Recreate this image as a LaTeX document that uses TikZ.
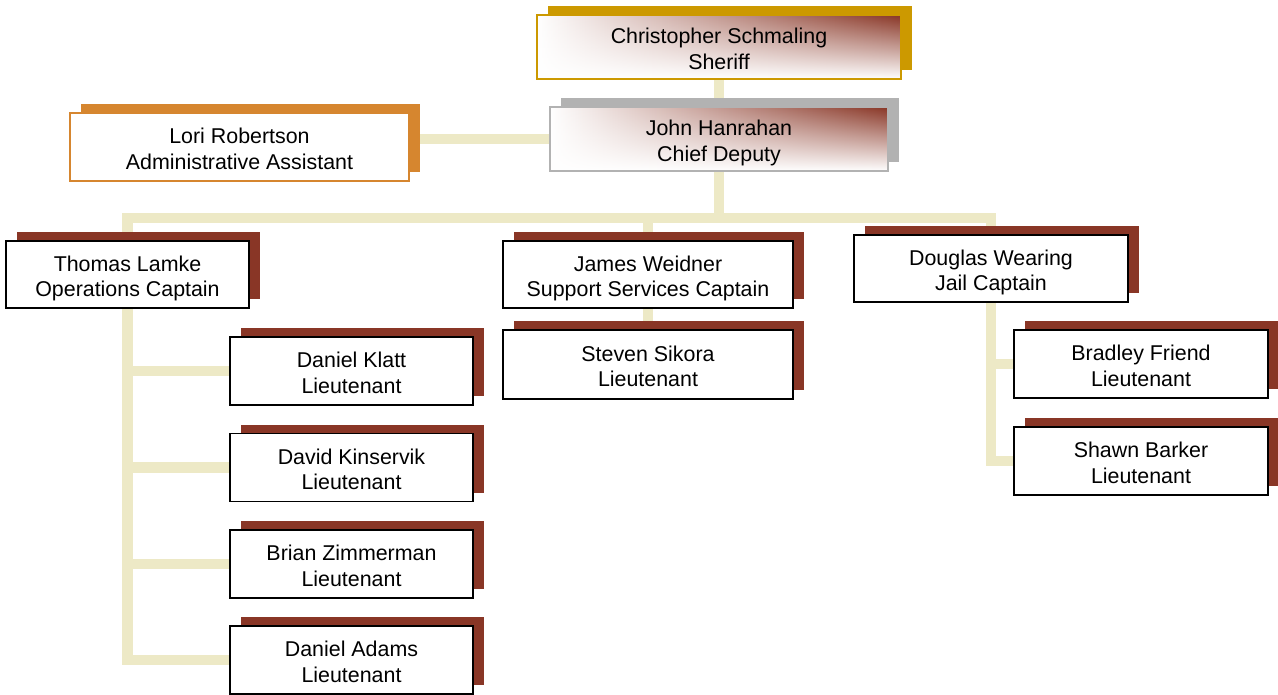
\documentclass[tikz,border=0pt]{standalone}
\usepackage{fontspec}
\setmainfont{Liberation Sans}
\usetikzlibrary{shadows,fadings,backgrounds}

\definecolor{rust}{RGB}{137,54,38}
\definecolor{goldedge}{RGB}{204,153,0}
\definecolor{greyedge}{RGB}{178,178,178}
\definecolor{orangeedge}{RGB}{214,134,47}
\definecolor{beige}{RGB}{237,233,198}
\tikzfading[name=fadedown, top color=transparent!0, middle color=transparent!25, bottom color=transparent!100]
\newcommand{\orgfont}{\fontsize{21.4}{25.7}\selectfont}

\tikzset{
  member/.style={rectangle, draw=black, line width=1.5pt, fill=white, inner sep=0pt,
    align=center, font=\orgfont, text height=44.5pt, text depth=0pt,
    drop shadow={shadow xshift=11pt, shadow yshift=9pt, fill=#1, opacity=1}},
  member/.default=rust,
  glow/.style={postaction={left color=white, middle color=rust!30!white, right color=rust, path fading=fadedown},
    postaction={draw=#1, line width=1.5pt}},
  lieut/.style={member, minimum width=243pt, minimum height=68pt},
  link/.style={draw=beige, line width=10.5pt}
}

\begin{document}
\begin{tikzpicture}[x=1pt, y=-1pt]
    \useasboundingbox (0,0) rectangle (1278,694);

    \node[member=goldedge, draw=goldedge, glow=goldedge, minimum width=364pt, minimum height=64pt] (sheriff) at (719,47) {Christopher Schmaling\\Sheriff};
    \node[member=greyedge, draw=greyedge, glow=greyedge, minimum width=338pt, minimum height=64pt] (chief) at (719,139) {John Hanrahan\\Chief Deputy};
    \node[member=orangeedge, draw=orangeedge, minimum width=339pt, minimum height=68pt] (lori) at (239.5,147) {Lori Robertson\\Administrative Assistant};

    \node[member, minimum width=243pt, minimum height=67pt] (thomas) at (127.5,274.5) {Thomas Lamke\\Operations Captain};
    \node[member, minimum width=290pt, minimum height=67pt] (james) at (648,274.5) {James Weidner\\Support Services Captain};
    \node[member, minimum width=274pt, minimum height=67pt] (douglas) at (991,268.5) {Douglas Wearing\\Jail Captain};

    \node[member, minimum width=290pt, minimum height=69pt] (sikora) at (648,364.5) {Steven Sikora\\Lieutenant};

    \node[lieut] (klatt) at (351.5,371) {Daniel Klatt\\Lieutenant};
    \node[lieut] (kinservik) at (351.5,467.5) {David Kinservik\\Lieutenant};
    \node[lieut] (zimmerman) at (351.5,564) {Brian Zimmerman\\Lieutenant};
    \node[lieut] (adams) at (351.5,660) {Daniel Adams\\Lieutenant};

    \node[lieut, minimum width=254pt] (friend) at (1141,364) {Bradley Friend\\Lieutenant};
    \node[lieut, minimum width=254pt] (barker) at (1141,461) {Shawn Barker\\Lieutenant};

    \coordinate (hub) at (719,218);

    \begin{scope}[on background layer]
      \draw[link] (sheriff) -- (chief);
      \draw[link] (chief.west) -- (chief.west -| lori.east);
      \draw[link] (chief) -- (hub);
      \draw[link] (hub) -| (thomas.north);
      \draw[link] (hub) -| (james.north);
      \draw[link] (hub) -| (douglas.north);

      \draw[link] (thomas.south) |- (klatt.west);
      \draw[link] (thomas.south) |- (kinservik.west);
      \draw[link] (thomas.south) |- (zimmerman.west);
      \draw[link] (thomas.south) |- (adams.west);

      \draw[link] (james) -- (sikora);

      \draw[link] (douglas.south) |- (friend.west);
      \draw[link] (douglas.south) |- (barker.west);
    \end{scope}
\end{tikzpicture}
\end{document}
